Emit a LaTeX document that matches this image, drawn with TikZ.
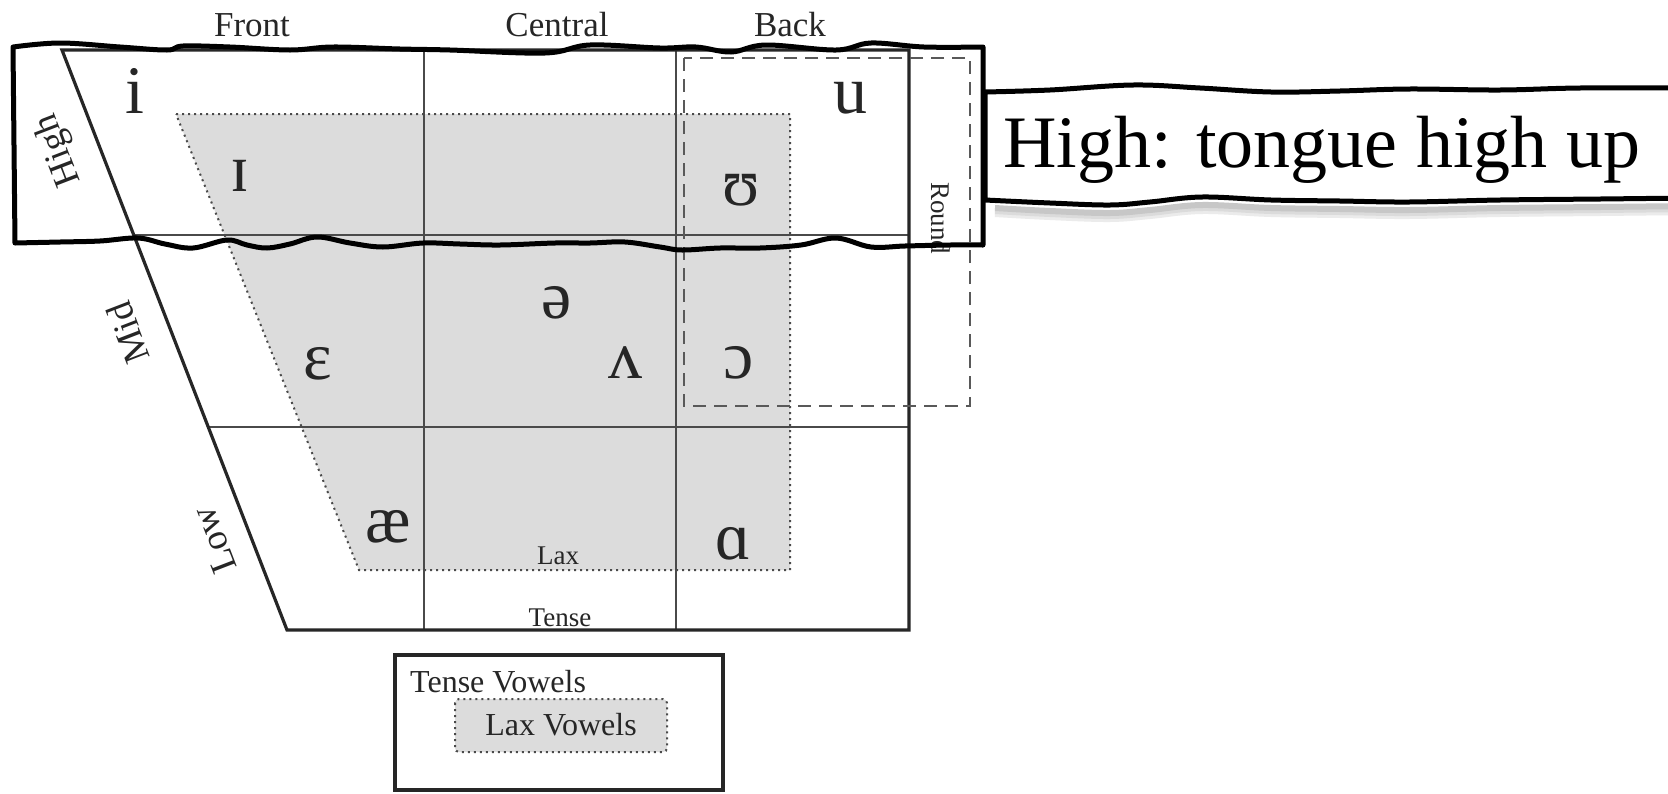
\documentclass[tikz,border=0pt]{standalone}
\usepackage{fontspec}
\setmainfont{Liberation Serif}
\definecolor{laxgray}{HTML}{DCDCDC}
\definecolor{ink}{HTML}{262626}
\definecolor{gridc}{HTML}{4A4A4A}
\begin{document}
\begin{tikzpicture}[x=1pt,y=-1pt,
  vowel/.style={font=\fontsize{68}{68}\selectfont, text=ink, inner sep=0pt},
  colhead/.style={font=\fontsize{35}{35}\selectfont, text=ink, inner sep=0pt},
  rowhead/.style={font=\fontsize{37}{37}\selectfont, text=ink, inner sep=0pt, rotate=111},
  smalllab/.style={font=\fontsize{27}{27}\selectfont, text=ink, inner sep=0pt},
  legendlab/.style={font=\fontsize{32}{32}\selectfont, text=ink, inner sep=0pt},
  gridline/.style={draw=gridc, line width=1.3pt},
  outline/.style={draw=black!85, line width=3.2pt, line join=miter},
  laxedge/.style={draw=gridc, line width=2pt, dash pattern=on 2pt off 4pt},
  roundedge/.style={draw=black!65, line width=2.6pt, dash pattern=on 13pt off 8pt},
  wavy/.style={draw=black, line width=5pt, line join=round, line cap=round},
]
% canvas
\fill[white] (0,0) rectangle (1668,793);
\useasboundingbox (0,0) rectangle (1668,793);

% lax region fill
\fill[laxgray] (176,114) -- (790,114) -- (790,570) -- (359,570) -- cycle;

% grid
\draw[gridline] (133.8,235) -- (909,235);
\draw[gridline] (208.2,427) -- (909,427);
\draw[gridline] (424,50) -- (424,630);
\draw[gridline] (676,50) -- (676,630);
\draw[outline] (62,50) -- (909,50) -- (909,630) -- (287,630) -- cycle;

% lax border
\draw[laxedge] (176,114) -- (790,114) -- (790,570) -- (359,570) -- cycle;

% round region
\draw[roundedge] (684,58) rectangle (970,406);

% column heads
\node[colhead] (front) at (252,25) {Front};
\node[colhead] (central) at (557,25) {Central};
\node[colhead] (back) at (790,25) {Back};

% row heads
\node[rowhead] (high) at (59,150) {High};
\node[rowhead] (mid) at (128,333) {Mid};
\node[rowhead] (low) at (214,540) {Low};

% other labels
\node[smalllab, rotate=-90] (round) at (941,218) {Round};
\node[smalllab] (lax) at (558,556) {Lax};
\node[smalllab] (tense) at (560,618) {Tense};

% vowels
\node[vowel] (v-i) at (135,91) {i};
\node[vowel] (v-I) at (240,176) {ɪ};
\node[vowel] (v-u) at (850,98) {u};
\node[vowel] (v-U) at (741,190) {ʊ};
\node[vowel] (v-schwa) at (557,303) {ə};
\node[vowel] (v-wedge) at (625,363) {ʌ};
\node[vowel] (v-open-o) at (739,363) {ɔ};
\node[vowel] (v-eps) at (318,364) {ɛ};
\node[vowel] (v-ae) at (388,527) {æ};
\node[vowel] (v-alpha) at (733,544) {ɑ};

% legend
\draw[draw=black!85, line width=4pt] (395,655) rectangle (723,790);
\node[legendlab, anchor=west] (tensev) at (410,682) {Tense Vowels};
\draw[fill=laxgray, laxedge, rounded corners=4pt] (455,699) rectangle (667,752);
\node[legendlab] (laxv) at (561,725) {Lax Vowels};

% highlight box (wavy)
\draw[wavy] plot[smooth, tension=0.6] coordinates {(13,47) (60,43) (120,47) (167,50) (183,46) (230,47) (290,50) (333,47) (400,49) (450,50) (545,53) (590,45) (660,48) (696,47) (731,52) (766,45) (836,50) (871,43) (924,47) (983,47)}
  -- plot[smooth, tension=0.6] coordinates {(983,245) (950,245) (905,246) (871,247) (836,238) (801,245) (760,248) (720,248) (682,250) (660,247) (625,242) (590,243) (555,243) (500,245) (460,244) (423,243) (383,247) (350,243) (317,237) (290,244) (267,248) (247,245) (227,240) (193,248) (165,244) (138,238) (100,241) (60,242) (15,243)}
  -- cycle;

% callout shadow
\foreach \o/\c in {14/8, 11/14, 8/22}{
  \draw[line width=6pt, draw=black!\c] plot[smooth, tension=0.6] coordinates {(995,200+\o) (1050,203+\o) (1110,205+\o) (1150,202+\o) (1202,197+\o) (1271,200+\o) (1340,201+\o) (1409,202+\o) (1500,200+\o) (1600,199+\o) (1690,198+\o)};
}
% callout box
\draw[wavy, fill=white] plot[smooth, tension=0.6] coordinates {(985,92) (1050,90) (1133,85) (1200,88) (1271,92) (1340,91) (1409,89) (1500,90) (1580,88) (1690,88)}
  -- plot[smooth, tension=0.6] coordinates {(1690,198) (1600,199) (1500,200) (1409,202) (1340,201) (1271,200) (1202,197) (1150,202) (1110,205) (1050,203) (985,200)}
  -- cycle;
\node[anchor=base west, inner sep=0pt, font=\fontsize{74}{74}\selectfont] (callout) at (1003,167) {High: tongue high up};
\end{tikzpicture}
\end{document}
